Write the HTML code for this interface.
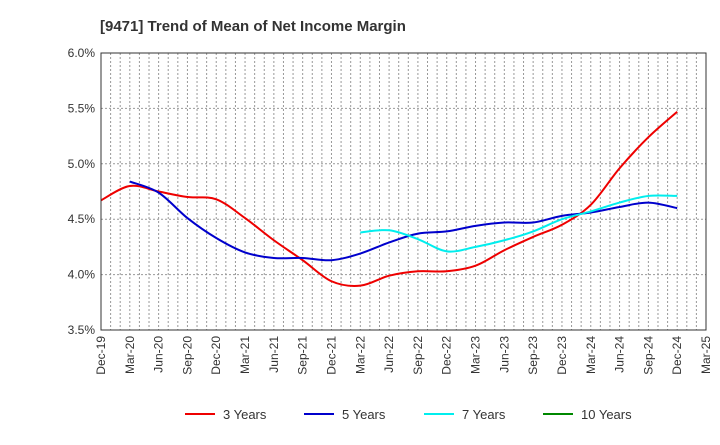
<!DOCTYPE html>
<html><head><meta charset="utf-8"><style>
body{margin:0;background:#fff;font-family:"Liberation Sans",sans-serif}
</style></head><body>
<svg id="c" width="720" height="440" xmlns="http://www.w3.org/2000/svg">
<text x="100" y="31" font-size="15" font-weight="bold" fill="#333">[9471]  Trend of Mean of Net Income Margin</text>
<g id="grid"></g><g id="series"></g><g id="axes"></g>
<g font-size="13" fill="#333">
<line x1="185" y1="414" x2="215" y2="414" stroke="#e00" stroke-width="2"/><text x="223" y="419">3 Years</text>
<line x1="304" y1="414" x2="334" y2="414" stroke="#00c" stroke-width="2"/><text x="342" y="419">5 Years</text>
<line x1="424" y1="414" x2="454" y2="414" stroke="#0ee" stroke-width="2"/><text x="462" y="419">7 Years</text>
<line x1="543" y1="414" x2="573" y2="414" stroke="#080" stroke-width="2"/><text x="581" y="419">10 Years</text>
</g>
</svg>
<script>
const xLabels=["Dec-19","Mar-20","Jun-20","Sep-20","Dec-20","Mar-21","Jun-21","Sep-21","Dec-21","Mar-22","Jun-22","Sep-22","Dec-22","Mar-23","Jun-23","Sep-23","Dec-23","Mar-24","Jun-24","Sep-24","Dec-24","Mar-25"];
const yTicks=[3.5,4.0,4.5,5.0,5.5,6.0];
const s3=[4.67,4.80,4.75,4.70,4.68,4.51,4.31,4.13,3.94,3.90,3.99,4.03,4.03,4.08,4.22,4.34,4.45,4.63,4.96,5.24,5.47];
const s5=[null,4.84,4.74,4.51,4.33,4.20,4.15,4.15,4.13,4.19,4.29,4.37,4.39,4.44,4.47,4.47,4.53,4.56,4.61,4.65,4.60];
const s7=[null,null,null,null,null,null,null,null,null,4.38,4.40,4.32,4.21,4.25,4.31,4.39,4.50,4.57,4.65,4.71,4.71];
const L=101,R=706,T=53,B=330,NS="http://www.w3.org/2000/svg";
const x=i=>L+(R-L)*i/21, y=v=>B-(v-3.5)/2.5*(B-T);
function mk(t,a,p){const e=document.createElementNS(NS,t);for(const k in a)e.setAttribute(k,a[k]);p.appendChild(e);return e;}
const g=document.getElementById('grid'),ax=document.getElementById('axes'),se=document.getElementById('series');
for(let m=1;m<63;m++){const l=mk('line',{x1:L+(R-L)*m/63,x2:L+(R-L)*m/63,y1:T,y2:B,stroke:'#999','stroke-dasharray':'2,2'},g);
}
yTicks.forEach(v=>{const l=mk('line',{x1:L,x2:R,y1:y(v),y2:y(v),stroke:'#999','stroke-dasharray':'2,2'},g);

const t=mk('text',{x:L-6,y:y(v)+4,'text-anchor':'end','font-size':12,fill:'#333'},ax);t.textContent=v.toFixed(1)+'%';
});
const fr=mk('rect',{x:L,y:T,width:R-L,height:B-T,fill:'none',stroke:'#333'},ax);

xLabels.forEach((s,i)=>{const t=mk('text',{transform:`translate(${x(i)+4},${B+6}) rotate(-90)`,'text-anchor':'end','font-size':12,fill:'#333'},ax);t.textContent=s;
});
function path(d,c,n){const p=[];d.forEach((v,i)=>{if(v!=null)p.push([x(i),y(v)])});
let s='M'+p[0][0]+','+p[0][1];
for(let i=0;i<p.length-1;i++){const p0=p[i-1]||p[i],p1=p[i],p2=p[i+1],p3=p[i+2]||p2;
s+=`C${p1[0]+(p2[0]-p0[0])/6},${p1[1]+(p2[1]-p0[1])/6} ${p2[0]-(p3[0]-p1[0])/6},${p2[1]-(p3[1]-p1[1])/6} ${p2[0]},${p2[1]}`;}
const e=mk('path',{d:s,fill:'none',stroke:c,'stroke-width':2},se);
}
path(s3,'#e00','line-3-years');path(s5,'#00c','line-5-years');path(s7,'#0ee','line-7-years');
</script>
</body></html>
